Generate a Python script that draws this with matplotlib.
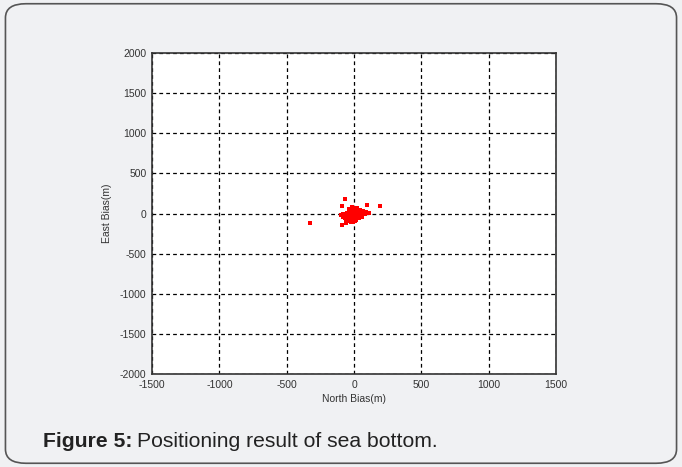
import matplotlib.pyplot as plt
from matplotlib.patches import FancyBboxPatch

plt.rcParams['font.family'] = ['Liberation Sans', 'DejaVu Sans']
plt.rcParams['axes.unicode_minus'] = False

# Posições estimadas (m) dos pontos do fundo do mar
north_bias = [-67, -91, 99, 193, -327, -91, -75, -60, -45, -30, -20, -10, 0, 10, 20, 30, 45, 60, 75,
              -50, -35, -25, -15, -5, 5, 15, 25, 35, 50, 65, -40, -20, 0, 20, 40, 55, -55, -30,
              -10, 10, 30, 70, 85, -80, -65, -45, -25, -5, 15, 35, 5, -15, 25, 45, -35, 60, 90, -85,
              -60, -20, 10, 40, 0, -40, 20, -10, 30, 50, -70, 80,
              -50, -30, -10, 10, 30, 50, -40, -20, 0, 20, 40, -30, -10, 10, 30, -20, 0, 20,
              -60, -40, -20, 0, 20, 40, 60, -45, -25, -5, 15, 35, 110, -100]
east_bias = [177, 93, 106, 93, -115, -143, -20, -10, 0, 10, 20, 30, 40, 25, 15, 5, 0, -5, 10,
             -30, -40, -20, -50, -60, -35, -25, -15, 45, 20, 30, 50, 60, 55, 35, -10, -20, 5, -55,
             -80, -70, -45, -5, 15, -40, -60, -75, -90, -100, -85, -30, 70, 75, 65, 40, 25, -25, 20, -10,
             -120, -110, -95, -50, -20, -5, 0, 10, -15, 5, 0, 0,
             -15, -25, -35, -45, -40, -30, 0, -5, -10, -15, -20, 15, 20, 25, 30, 40, 45, 50,
             -65, -55, -45, -65, -55, -50, -40, -95, -85, -75, -70, -60, 10, -20]

fig = plt.figure(figsize=(6.82, 4.67), dpi=100)
fig.patch.set_facecolor('#f0f1f3')

# Moldura arredondada
moldura = FancyBboxPatch((0.008, 0.008), 0.984, 0.984,
                         boxstyle='round,pad=0,rounding_size=0.03',
                         transform=fig.transFigure, facecolor='#f0f1f3',
                         edgecolor='#555555', linewidth=1.2, zorder=-1)
fig.patches.append(moldura)

ax = fig.add_axes([0.2229, 0.1991, 0.5924, 0.6874])
ax.set_facecolor('white')
ax.scatter(north_bias, east_bias, s=7, color='red', marker='s', linewidths=0, zorder=3)

ax.set_xlim(-1500, 1500)
ax.set_ylim(-2000, 2000)
ax.set_xticks(range(-1500, 1501, 500))
ax.set_yticks(range(-2000, 2001, 500))
ax.grid(True, color='black', linestyle=(0, (3, 2.5)), linewidth=0.9)
ax.tick_params(direction='in', length=0, labelsize=7.5, colors='#333333', pad=4)
for s in ax.spines.values():
    s.set_color('#333333')
    s.set_linewidth(1.2)

ax.set_xlabel('North Bias(m)', fontsize=7.5, color='#333333', labelpad=3)
ax.set_ylabel('East Bias(m)', fontsize=7.5, color='#333333', labelpad=6)

# Legenda da figura: parte em negrito seguida do texto normal
t1 = fig.text(0.063, 0.043, 'Figure 5:', fontsize=15.2, fontweight='bold',
              color='#222222', va='baseline')
fig.canvas.draw()
bb = t1.get_window_extent()
x2 = (bb.x1 + 5) / fig.bbox.width
fig.text(x2, 0.043, 'Positioning result of sea bottom.', fontsize=15.2,
         color='#222222', va='baseline')

plt.savefig('out.png', dpi=100, facecolor=fig.get_facecolor())
